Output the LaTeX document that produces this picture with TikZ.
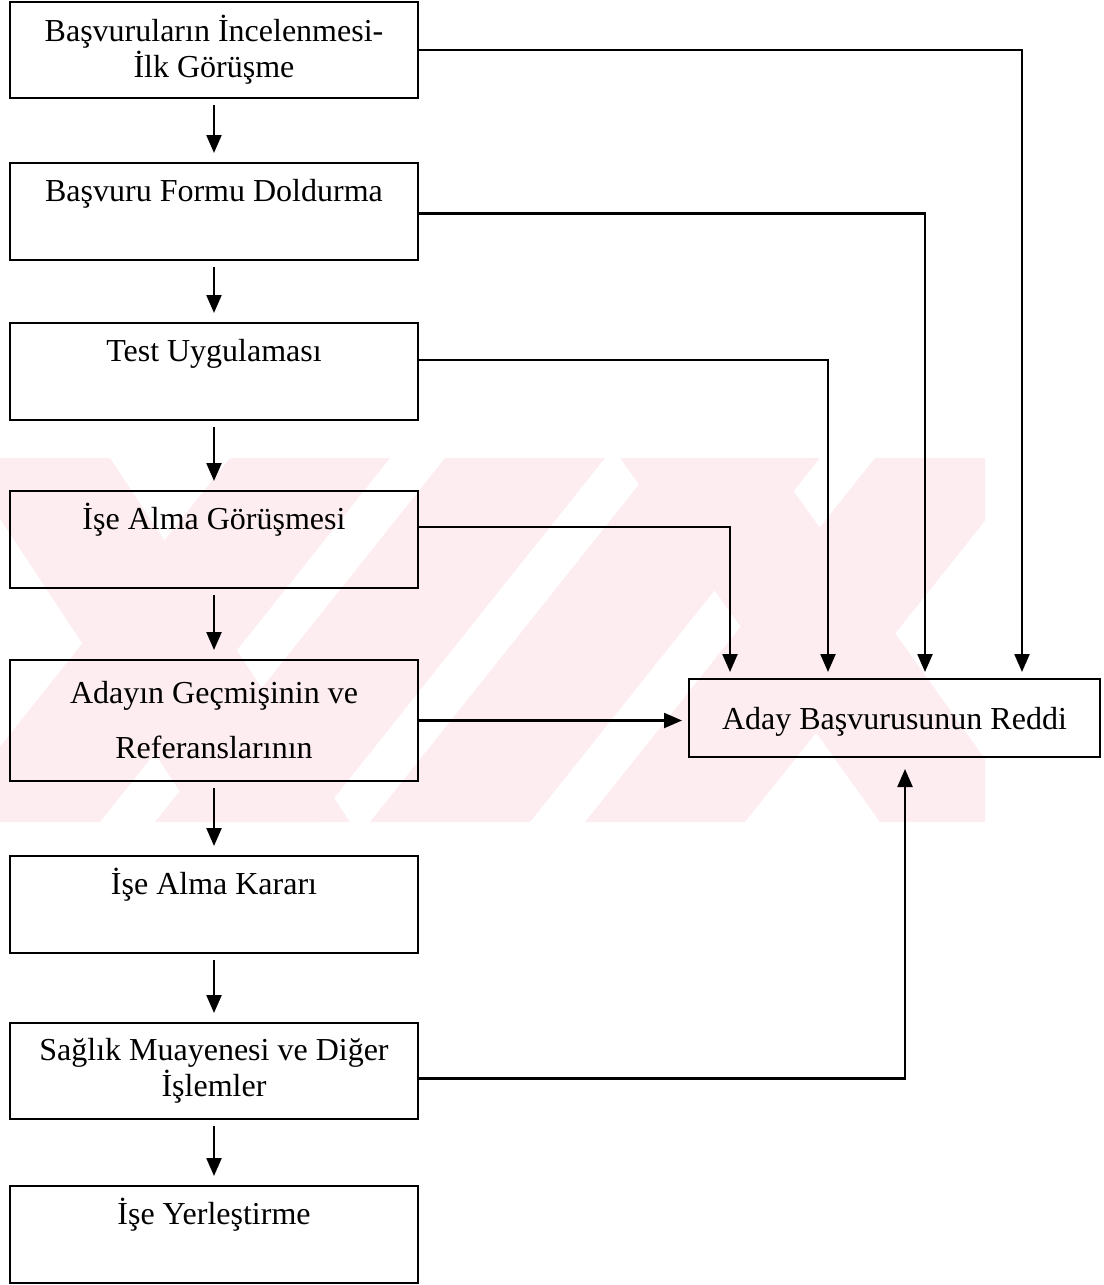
\documentclass[tikz,border=0pt]{standalone}
\usepackage{fontspec}
\setmainfont{Liberation Serif}
\usetikzlibrary{positioning, arrows.meta}

\definecolor{wmark}{RGB}{253,237,240}

\tikzset{
  box/.style={draw, line width=2.6pt, inner xsep=0pt, inner ysep=0pt, outer sep=0pt,
    font=\fontsize{32}{36}\selectfont},
  stage/.style={box, minimum width=408pt, text height=38pt, text depth=59pt},
  stagetwo/.style={box, minimum width=408pt, align=center, minimum height=96pt},
  reject/.style={box, minimum width=411pt, text height=50pt, text depth=28pt},
  link/.style={->, line width=2.3pt}
}

\begin{document}
\begin{tikzpicture}[x=1pt, y=-1pt, >={Triangle[length=18pt, width=15pt]}]
   \useasboundingbox (0,0) rectangle (1103,1285);

   \begin{scope}
     \clip (0,458) rectangle (985,822);
     \foreach \bx in {-60,155,370,585}
       \fill[wmark] (\bx,822) -- ++(160,0) -- ++(290,-364) -- ++(-160,0) -- cycle;
     \fill[wmark] (-40,458) -- ++(150,0) -- ++(240,364) -- ++(-150,0) -- cycle;
     \fill[wmark] (620,458) -- ++(150,0) -- ++(260,364) -- ++(-150,0) -- cycle;
   \end{scope}

   \node[stagetwo] (b1) at (214,50) {Başvuruların İncelenmesi-\\İlk Görüşme};
   \node[stage] (b2) [below=65pt of b1] {Başvuru Formu Doldurma};
   \node[stage] (b3) [below=63pt of b2] {Test Uygulaması};
   \node[stage] (b4) [below=71pt of b3] {İşe Alma Görüşmesi};
   \node[stagetwo, minimum height=121pt] (b5) [below=72pt of b4]
     {Adayın Geçmişinin ve\\[19pt]Referanslarının};
   \node[stage] (b6) [below=75pt of b5] {İşe Alma Kararı};
   \node[stagetwo] (b7) [below=70pt of b6] {Sağlık Muayenesi ve Diğer\\İşlemler};
   \node[stage] (b8) [below=67pt of b7] {İşe Yerleştirme};
   \node[reject, yshift=2.5pt] (red) [right=271pt of b5] {Aday Başvurusunun Reddi};

   \path[link, shorten <=7pt, shorten >=10pt]
    (b1) edge (b2)
    (b2) edge (b3)
    (b3) edge (b4)
    (b4) edge (b5)
    (b5) edge (b6)
    (b6) edge (b7)
    (b7) edge (b8);

   \draw[link, shorten >=7pt] (b1.east) -| ([xshift=127.5pt]red.north);
   \draw[link, shorten >=7pt] ([yshift=-2pt]b2.east) -| ([xshift=30.5pt]red.north);
   \draw[link, shorten >=7pt] ([yshift=11.5pt]b3.east) -| ([xshift=-66.5pt]red.north);
   \draw[link, shorten >=7pt] ([yshift=12.5pt]b4.east) -| ([xshift=-164.5pt]red.north);
   \draw[link, shorten >=7pt] (b5.east) -- (b5.east -| red.west);
   \draw[link, shorten >=12pt] ([yshift=-7.5pt]b7.east) -| ([xshift=10.5pt]red.south);
\end{tikzpicture}
\end{document}
